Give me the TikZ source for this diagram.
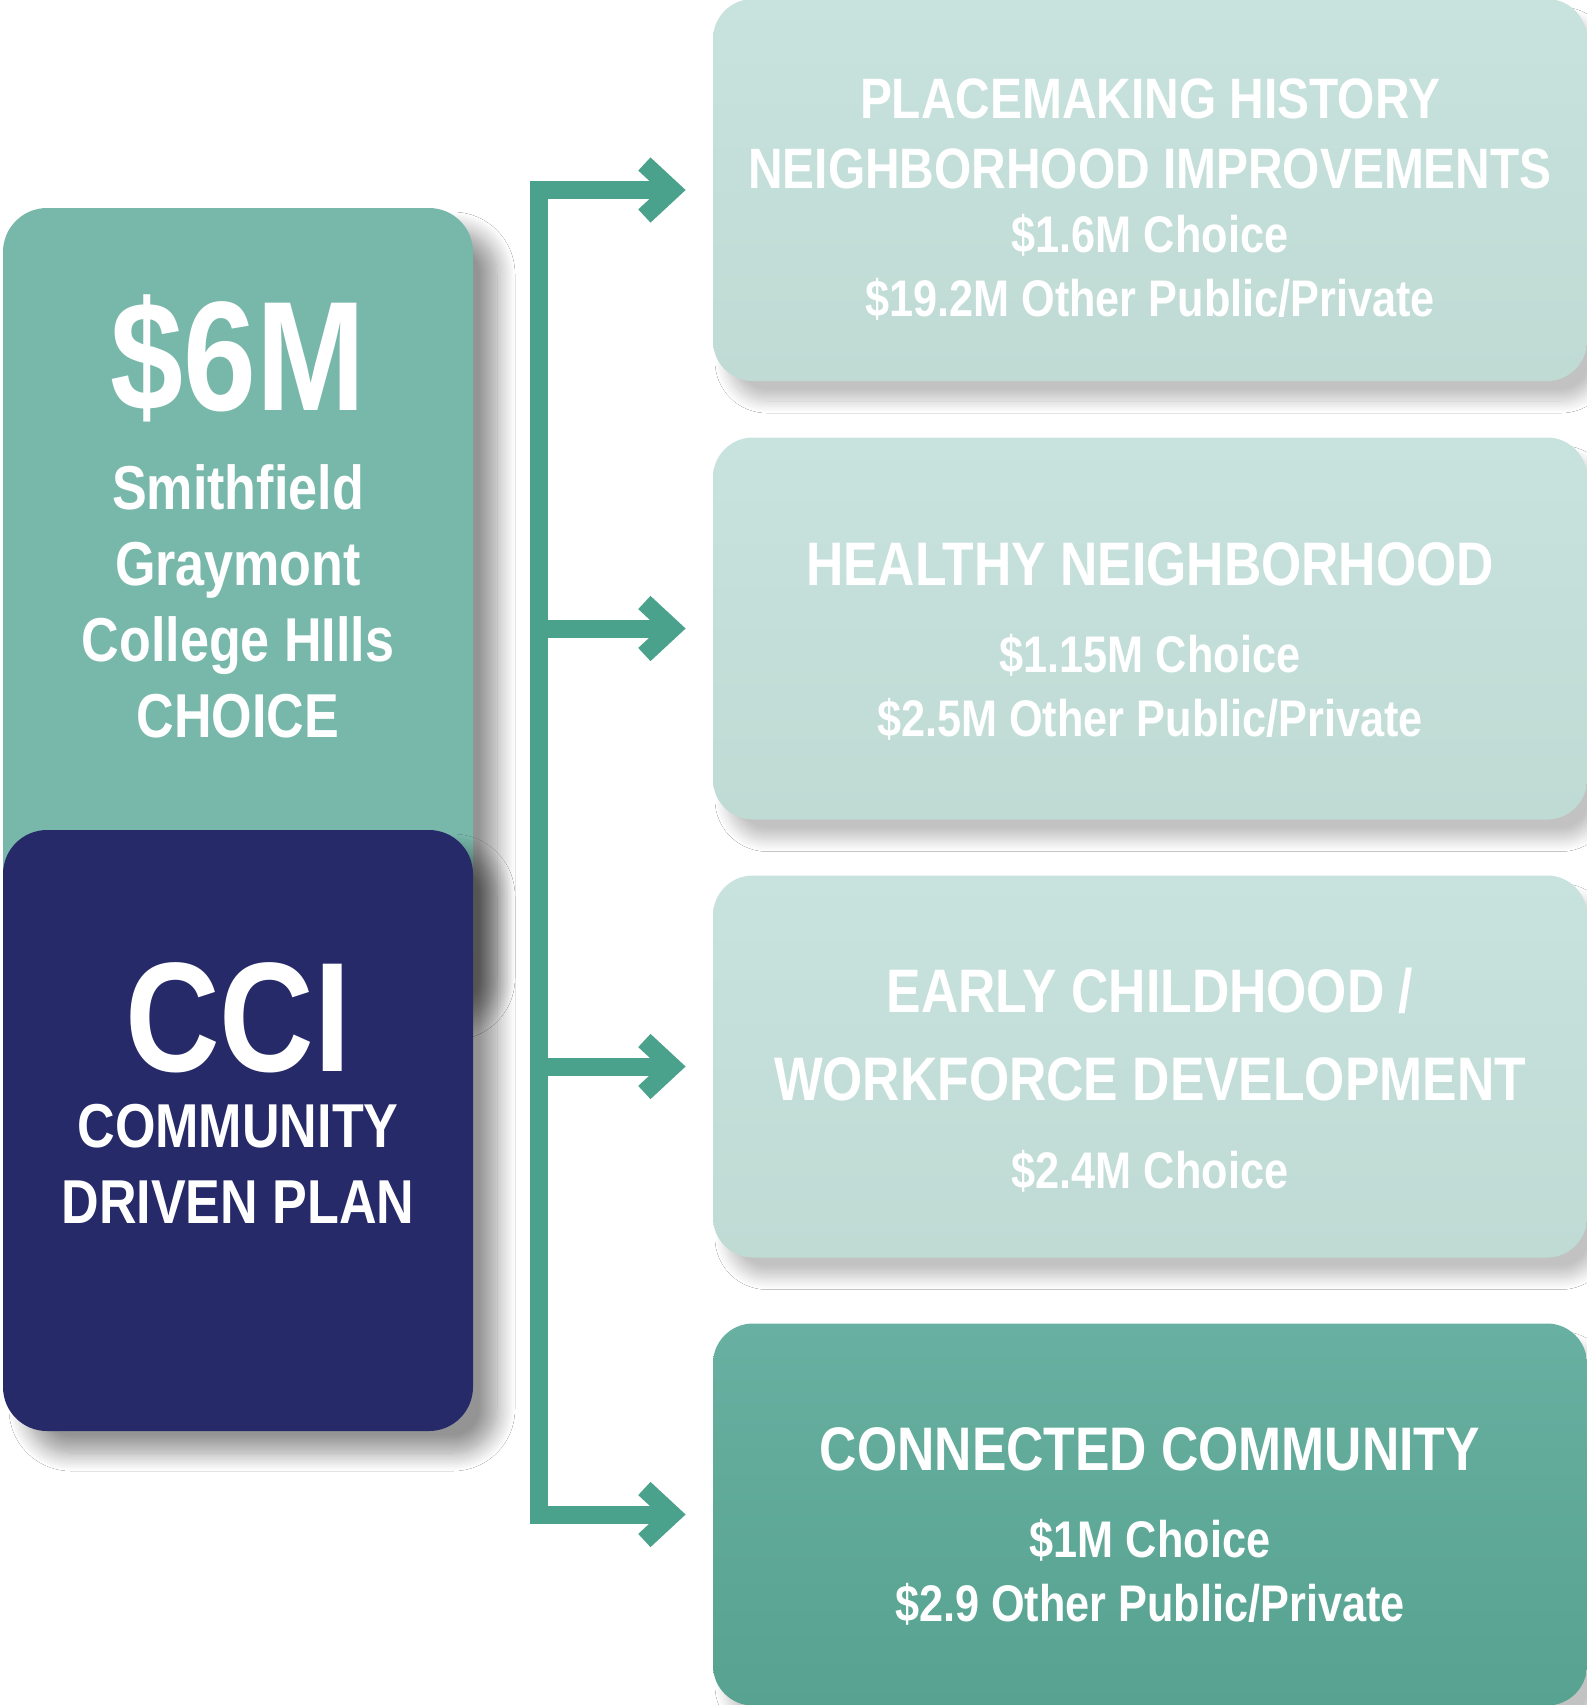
\documentclass[tikz,border=0pt]{standalone}
\usepackage{fontspec}
\setmainfont{Liberation Sans}
\usepackage{tikz}
\usetikzlibrary{positioning}
\usetikzlibrary{calc}
\usetikzlibrary{arrows.meta}
\usetikzlibrary{shadows.blur}
\newfontfamily\condfont{Liberation Sans}[FakeStretch=0.84]
\definecolor{fundgreen}{HTML}{78B8AB}
\definecolor{ccinavy}{HTML}{262A69}
\definecolor{flowteal}{HTML}{4AA18C}
\definecolor{paletop}{HTML}{C8E2DD}
\definecolor{palebot}{HTML}{BFDBD4}
\definecolor{deeptop}{HTML}{68B0A1}
\definecolor{deepbot}{HTML}{57A290}
\newcommand{\bigfig}{\condfont\bfseries\fontsize{78pt}{38pt}\selectfont}
\newcommand{\sidefig}{\condfont\bfseries\fontsize{31pt}{38pt}\selectfont}
\newcommand{\headbf}{\condfont\bfseries\fontsize{30.75pt}{32pt}\selectfont}
\newcommand{\headlt}{\condfont\bfseries\fontsize{28.5pt}{32pt}\selectfont}
\newcommand{\amount}{\condfont\bfseries\fontsize{25.75pt}{32pt}\selectfont}

\begin{document}
\begin{tikzpicture}[x=0.5pt, y=-0.5pt,
    panel/.style={rounded corners=20pt, minimum width=437pt, minimum height=191pt, inner sep=0pt,
        blur shadow={shadow xshift=7pt, shadow yshift=-10pt, shadow blur radius=6pt,
          shadow blur steps=16, shadow opacity=24}},
    pale/.style={panel, top color=paletop, bottom color=palebot},
    deep/.style={panel, top color=deeptop, bottom color=deepbot},
    sidebox/.style={rounded corners=22pt, minimum width=235pt, inner sep=0pt,
        blur shadow={shadow xshift=12pt, shadow yshift=-11pt, shadow blur radius=9pt,
          shadow blur steps=16, shadow opacity=42}},
    words/.style={text=white, align=center, inner sep=0pt, anchor=north},
    flow/.style={draw=flowteal, line width=9pt, line cap=rect},
    flowtip/.style={-{Straight Barb[length=14pt, width=26pt]}, line join=miter, shorten >=13.5pt}
  ]
  \path[use as bounding box, fill=white] (0,0) rectangle (1587,1705);

  % left column
  \node[sidebox, fill=fundgreen, minimum height=396pt] (fund) at (238,604) {};
  \node[sidebox, fill=ccinavy, minimum height=300.5pt] (cci) at (238,1130.5) {};
  \node[words, font=\fontsize{31pt}{38pt}\selectfont] (fundtxt) at ($(fund.north)+(0,87)$)
    {{\bigfig \$6M}\\[11.5pt] {\sidefig Smithfield}\\ {\sidefig Graymont}\\ {\sidefig College HIlls}\\ {\sidefig CHOICE}};
  \node[words, font=\fontsize{31pt}{38pt}\selectfont] (ccitxt) at ($(cci.north)+(0,133)$)
    {{\bigfig CCI}\\ {\sidefig COMMUNITY}\\ {\sidefig DRIVEN PLAN}};

  % right column
  \node[pale] (p1) at (1150,190) {};
  \node[pale] (p2) at (1150,628.5) {};
  \node[pale] (p3) at (1150,1066.5) {};
  \node[deep] (p4) at (1150,1514.5) {};
  \node[words, font=\fontsize{26pt}{32pt}\selectfont] (p1txt) at ($(p1.north)+(0,80)$)
    {{\headlt PLACEMAKING HISTORY}\\[3pt] {\headlt NEIGHBORHOOD IMPROVEMENTS}\\ {\amount \$1.6M Choice}\\ {\amount \$19.2M Other Public/Private}};
  \node[words, font=\fontsize{26pt}{32pt}\selectfont] (p2txt) at ($(p2.north)+(0,105)$)
    {{\headbf HEALTHY NEIGHBORHOOD}\\[11.5pt] {\amount \$1.15M Choice}\\ {\amount \$2.5M Other Public/Private}};
  \node[words, font=\fontsize{26pt}{32pt}\selectfont] (p3txt) at ($(p3.north)+(0,92)$)
    {{\headbf EARLY CHILDHOOD /}\\[12pt] {\headbf WORKFORCE DEVELOPMENT}\\[12pt] {\amount \$2.4M Choice}};
  \node[words, font=\fontsize{26pt}{32pt}\selectfont] (p4txt) at ($(p4.north)+(0,104)$)
    {{\headbf CONNECTED COMMUNITY}\\[11.5pt] {\amount \$1M Choice}\\ {\amount \$2.9 Other Public/Private}};

  % connectors
  \coordinate (bus) at (539,0);
  \draw[flow] (bus |- p1.west) -- (bus |- p4.west);
  \foreach \n in {p1,p2,p3,p4}
    \draw[flow, flowtip] (bus |- \n.west) -- (\n.west);
\end{tikzpicture}
\end{document}
